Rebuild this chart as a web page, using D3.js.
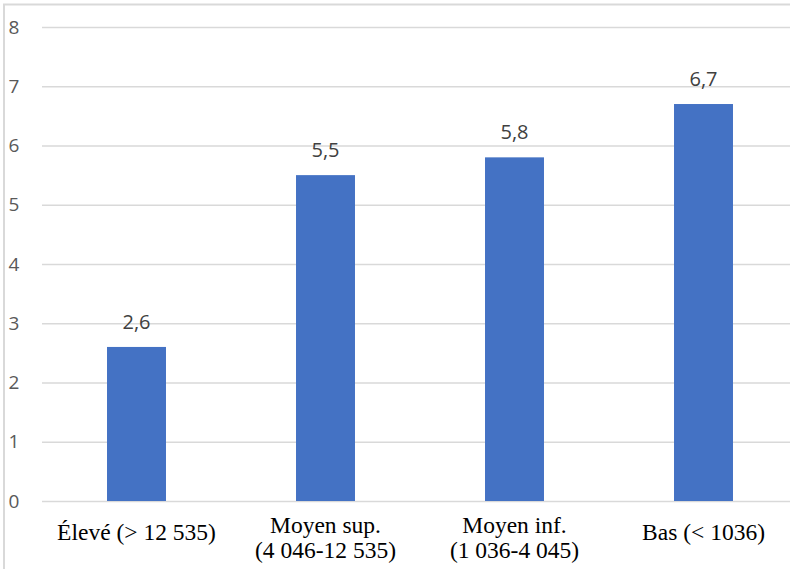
<!DOCTYPE html>
<html><head><meta charset="utf-8">
<script src="https://cdn.jsdelivr.net/npm/d3@7"></script>
<style>html,body{margin:0;padding:0;background:#fff;overflow:hidden}</style>
</head><body>
<svg id="c" width="790" height="569"></svg>
<script>
const categories = [["Élevé (> 12 535)"], ["Moyen sup.", "(4 046-12 535)"], ["Moyen inf.", "(1 036-4 045)"], ["Bas (< 1036)"]];
const values = [2.6, 5.5, 5.8, 6.7];
const yTicks = [0, 1, 2, 3, 4, 5, 6, 7, 8];

const svg = d3.select("#c");
// chart frame (cropped)
svg.append("rect").attr("x", 4).attr("y", 4.5).attr("width", 900).attr("height", 700)
  .attr("fill", "none").attr("stroke", "#d9d9d9").attr("stroke-width", 2);

const x = d3.scaleBand().domain(d3.range(categories.length)).range([42, 798]).paddingInner(0.688).paddingOuter(0.344);
const y = d3.scaleLinear().domain([0, 8]).range([501, 27]);

const yAxis = d3.axisLeft(y).tickValues(yTicks).tickSize(-760).tickFormat(d3.format("d"));
const gy = svg.append("g").attr("transform", "translate(42,0)").call(yAxis);
gy.attr("font-size", null).attr("font-family", null);
gy.select(".domain").remove();
gy.selectAll(".tick line").attr("stroke", "#d9d9d9").attr("stroke-width", 1.5).attr("x1", 0).attr("x2", 760);
gy.selectAll(".tick text").attr("x", -28).attr("text-anchor", "middle").attr("fill", "#595959")
  .style("font-family", "'Open Sans', 'Liberation Sans', sans-serif").style("font-size", "19px");

svg.append("g").selectAll("rect").data(values).join("rect")
  .attr("x", (d, i) => x(i)).attr("width", x.bandwidth())
  .attr("y", d => y(d)).attr("height", d => y(0) - y(d)).attr("fill", "#4472C4");

svg.append("g").selectAll("text").data(values).join("text")
  .attr("x", (d, i) => x(i) + x.bandwidth() / 2).attr("y", d => y(d) - 18)
  .attr("text-anchor", "middle").attr("fill", "#404040")
  .style("font-family", "'Open Sans', 'Liberation Sans', sans-serif").style("font-size", "20px")
  .text(d => d3.format(".1f")(d).replace(".", ","));

const xl = svg.append("g").selectAll("text").data(categories).join("text")
  .attr("text-anchor", "middle").attr("fill", "#000")
  .style("font-family", "'Liberation Serif', 'Times New Roman', serif").style("font-size", "23.5px")
  .attr("x", (d, i) => x(i) + x.bandwidth() / 2)
  .attr("y", d => d.length === 1 ? 540 : 533);
xl.each(function(d, i) {
  d3.select(this).selectAll("tspan").data(d).join("tspan")
    .attr("x", x(i) + x.bandwidth() / 2).attr("dy", (t, j) => j === 0 ? 0 : 25).text(t => t);
});
</script>
</body></html>
